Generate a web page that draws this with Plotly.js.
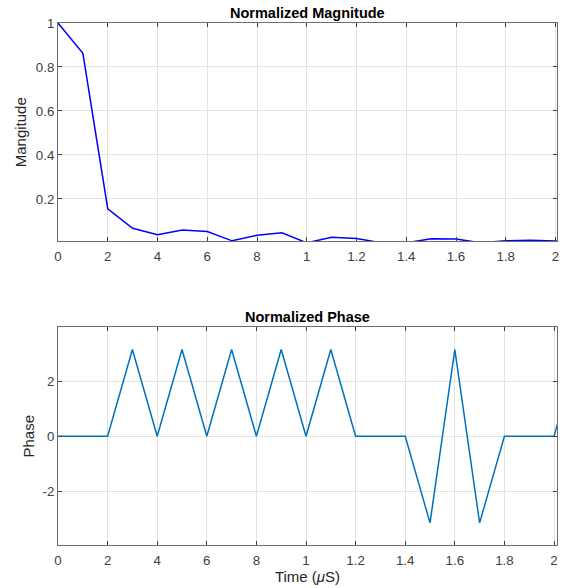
<!DOCTYPE html>
<html>
<head>
<meta charset="utf-8">
<script src="https://cdn.plot.ly/plotly-3.0.1.min.js"></script>
<style>html,body{margin:0;padding:0;background:#fff;}#chart{width:565px;height:588px;}</style>
</head>
<body>
<div id="chart"></div>
<script>
// sample index (x) and values
const sampleIndex = [0,1,2,3,4,5,6,7,8,9,10,11,12,13,14,15,16,17,18,19,20,21];
const magnitude = [1,0.862,0.155,0.066,0.037,0.058,0.051,0.009,0.034,0.046,0,0.025,0.020,0,0,0.018,0.017,0,0.009,0.012,0.008,0.008];
const phase = [0,0,0,3.1416,0,3.1416,0,3.1416,0,3.1416,0,3.1416,0,0,0,-3.1416,3.1416,-3.1416,0,0,0,3.1416];
const xTickVals = [0,2,4,6,8,10,12,14,16,18,20];
const xTickText = ['0','2','4','6','8','1','1.2','1.4','1.6','1.8','2'];
const magTickVals = [0.2,0.4,0.6,0.8,1];
const magTickText = ['0.2','0.4','0.6','0.8','1'];
const phaseTickVals = [-2,0,2];
const phaseTickText = ['-2','0','2'];

const FONT = 'Liberation Sans, Arial, sans-serif';
const tickFont = {family:FONT, size:13.3, color:'#404040'};
const axisCommon = {
  showline:true, mirror:'ticks', linecolor:'#6e6e6e', linewidth:1,
  ticks:'inside', ticklen:4, tickcolor:'#404040', tickwidth:1,
  showgrid:true, gridcolor:'#e3e3e3', gridwidth:1, zeroline:false,
  tickfont:tickFont, fixedrange:true
};

const traces = [
  {x:sampleIndex, y:magnitude, type:'scatter', mode:'lines', line:{color:'#0000ff', width:1.5}, xaxis:'x', yaxis:'y', hoverinfo:'skip'},
  {x:sampleIndex, y:phase, type:'scatter', mode:'lines', line:{color:'#0072bd', width:1.5}, xaxis:'x2', yaxis:'y2', hoverinfo:'skip'}
];

const layout = {
  width:565, height:588,
  margin:{l:58, r:7.5, t:0, b:0},
  paper_bgcolor:'#ffffff', plot_bgcolor:'#ffffff',
  showlegend:false,
  xaxis:Object.assign({}, axisCommon, {domain:[0,1], anchor:'y', range:[0,20.06], tickvals:xTickVals, ticktext:xTickText, ticklabelstandoff:3}),
  yaxis:Object.assign({}, axisCommon, {domain:[0.5893,0.9609], anchor:'x', range:[0.006,1], tickvals:magTickVals, ticktext:magTickText,
    title:{text:'Mangitude', font:{family:FONT, size:15, color:'#262626'}, standoff:5}}),
  xaxis2:Object.assign({}, axisCommon, {domain:[0,1], anchor:'y2', range:[0,20.12], tickvals:xTickVals, ticktext:xTickText, ticklabelstandoff:3,
    title:{text:'Time (<i>\u03bc</i>S)', font:{family:FONT, size:15, color:'#262626'}, standoff:4}}),
  yaxis2:Object.assign({}, axisCommon, {domain:[0.0723,0.4439], anchor:'x2', range:[-3.96,3.96], tickvals:phaseTickVals, ticktext:phaseTickText,
    title:{text:'Phase', font:{family:FONT, size:15, color:'#262626'}, standoff:4}}),
  annotations:[
    {text:'<b>Normalized Magnitude</b>', xref:'paper', yref:'paper', x:0.5, y:0.9609, yanchor:'bottom', xanchor:'center', showarrow:false, yshift:0, font:{family:FONT, size:14.5, color:'#000'}},
    {text:'<b>Normalized Phase</b>', xref:'paper', yref:'paper', x:0.5, y:0.4439, yanchor:'bottom', xanchor:'center', showarrow:false, yshift:0, font:{family:FONT, size:14.5, color:'#000'}}
  ]
};

Plotly.newPlot('chart', traces, layout, {displayModeBar:false, staticPlot:true});
</script>
</body>
</html>
